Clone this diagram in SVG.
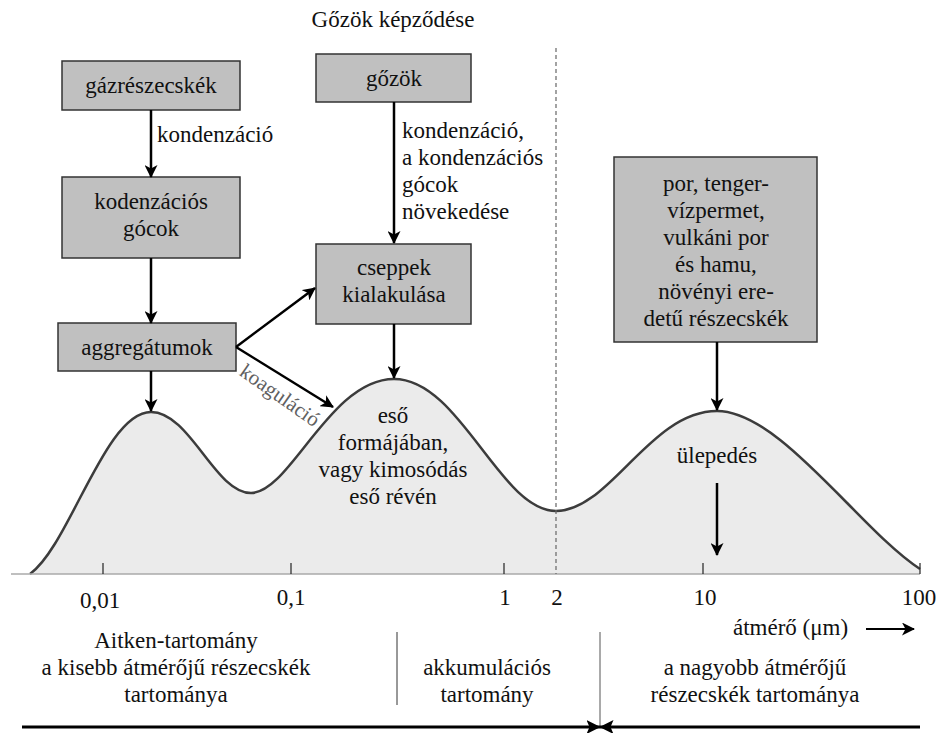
<svg xmlns="http://www.w3.org/2000/svg" width="943" height="733" viewBox="0 0 943 733">
  <defs>
    <marker id="head" viewBox="0 0 13 13" refX="12" refY="6.5" markerWidth="13" markerHeight="13" markerUnits="userSpaceOnUse" orient="auto">
      <path d="M0,0 L13,6.5 L0,13 L3.5,6.5 z" fill="#000"/>
    </marker>
    <marker id="headBig" viewBox="0 0 14 14" refX="13.5" refY="7" markerWidth="14" markerHeight="14" markerUnits="userSpaceOnUse" orient="auto">
      <path d="M0,0 L14,7 L0,14 L3,7 z" fill="#000"/>
    </marker>
  </defs>
  <style>
    .doc text { font-family: "Liberation Serif", "Times New Roman", serif; font-size: 23px; fill: #111; }
    .doc text.c { text-anchor: middle; }
    .doc text.koag { font-size: 21px; fill: #606060; text-anchor: middle; }
    .box { fill: #c0c0c0; stroke: #333; stroke-width: 1.5; }
    .arrow { stroke: #000; stroke-width: 2.5; fill: none; marker-end: url(#head); }
    .tick { stroke: #222; stroke-width: 1.2; }
  </style>

  <rect width="943" height="733" fill="#fff"/>

  <g class="doc" font-family="Liberation Serif, serif" font-size="23">
  <!-- size distribution curve -->
  <g id="curve">
    <path d="M30,574 C70,545 105,412 151,412 C190,412 215,493 251,493 C290,493 330,379 394,379 C460,379 500,511 556,511 C610,511 650,411 717,411 C780,411 860,530 920,569 L920,574 Z" fill="#ebebeb" stroke="none"/>
    <path d="M30,574 C70,545 105,412 151,412 C190,412 215,493 251,493 C290,493 330,379 394,379 C460,379 500,511 556,511 C610,511 650,411 717,411 C780,411 860,530 920,569" fill="none" stroke="#3c3c3c" stroke-width="2.5"/>
  </g>

  <!-- axis and ticks -->
  <g id="axis">
    <line x1="11" y1="574" x2="920" y2="574" stroke="#aaa" stroke-width="1.5"/>
    <line class="tick" x1="103" y1="563" x2="103" y2="574"/>
    <line class="tick" x1="291" y1="563" x2="291" y2="574"/>
    <line class="tick" x1="504" y1="563" x2="504" y2="574"/>
    <line class="tick" x1="703" y1="563" x2="703" y2="574"/>
    <line class="tick" x1="920" y1="563" x2="920" y2="574"/>
    <line x1="556" y1="48" x2="556" y2="574" stroke="#666" stroke-width="1.2" stroke-dasharray="4,3"/>
    <text class="c" x="100" y="608">0,01</text>
    <text class="c" x="291" y="605">0,1</text>
    <text class="c" x="505" y="605">1</text>
    <text class="c" x="557" y="605">2</text>
    <text class="c" x="705" y="605">10</text>
    <text class="c" x="919" y="605">100</text>
    <text x="733" y="635">átmérő (μm)</text>
    <line x1="866" y1="629" x2="914" y2="629" stroke="#000" stroke-width="2" marker-end="url(#head)"/>
  </g>

  <text class="c" x="393" y="27">Gőzök képződése</text>

  <!-- nodes -->
  <g id="gazreszecskek">
    <rect class="box" x="62" y="61" width="178" height="49"/>
    <text class="c" x="151" y="93">gázrészecskék</text>
  </g>
  <g id="kondenzacios-gocok">
    <rect class="box" x="62" y="177" width="178" height="81"/>
    <text class="c" x="151" y="209">kodenzációs</text>
    <text class="c" x="151" y="236">gócok</text>
  </g>
  <g id="aggregatumok">
    <rect class="box" x="58" y="323" width="178" height="48"/>
    <text class="c" x="147" y="355">aggregátumok</text>
  </g>
  <g id="gozok">
    <rect class="box" x="316" y="54" width="155" height="48"/>
    <text class="c" x="394" y="86">gőzök</text>
  </g>
  <g id="cseppek">
    <rect class="box" x="316" y="244" width="155" height="80"/>
    <text class="c" x="394" y="275">cseppek</text>
    <text class="c" x="394" y="302">kialakulása</text>
  </g>
  <g id="por">
    <rect class="box" x="614" y="157" width="203" height="185"/>
    <text class="c" x="716" y="191">por, tenger-</text>
    <text class="c" x="716" y="218">vízpermet,</text>
    <text class="c" x="716" y="245">vulkáni por</text>
    <text class="c" x="716" y="272">és hamu,</text>
    <text class="c" x="716" y="299">növényi ere-</text>
    <text class="c" x="716" y="326">detű részecskék</text>
  </g>

  <!-- connectors -->
  <g id="connectors">
    <line class="arrow" x1="151" y1="110" x2="151" y2="177"/>
    <line class="arrow" x1="151" y1="258" x2="151" y2="323"/>
    <line class="arrow" x1="151" y1="371" x2="151" y2="411"/>
    <line class="arrow" x1="394" y1="102" x2="394" y2="243"/>
    <line class="arrow" x1="394" y1="324" x2="394" y2="378"/>
    <line class="arrow" x1="236" y1="347" x2="315" y2="288"/>
    <line class="arrow" x1="236" y1="347" x2="333" y2="407"/>
    <line class="arrow" x1="717" y1="342" x2="717" y2="410"/>
    <line class="arrow" x1="717" y1="483" x2="717" y2="555"/>
    <text class="koag" x="0" y="0" transform="translate(276,401) rotate(35)">koaguláció</text>
  </g>

  <!-- curve labels -->
  <g id="labels">
    <text class="c" x="393" y="423">eső</text>
    <text class="c" x="393" y="450">formájában,</text>
    <text class="c" x="393" y="477">vagy kimosódás</text>
    <text class="c" x="393" y="504">eső révén</text>
    <text class="c" x="717" y="463">ülepedés</text>
    <text x="157" y="142">kondenzáció</text>
    <text x="402" y="138">kondenzáció,</text>
    <text x="402" y="165">a kondenzációs</text>
    <text x="402" y="192">gócok</text>
    <text x="402" y="219">növekedése</text>
  </g>

  <!-- size ranges -->
  <g id="ranges">
    <text class="c" x="176" y="648">Aitken-tartomány</text>
    <text class="c" x="176" y="675">a kisebb átmérőjű részecskék</text>
    <text class="c" x="176" y="702">tartománya</text>
    <line x1="397" y1="632" x2="397" y2="705" stroke="#333" stroke-width="1"/>
    <text class="c" x="487" y="675">akkumulációs</text>
    <text class="c" x="487" y="702">tartomány</text>
    <line x1="600" y1="632" x2="600" y2="727" stroke="#555" stroke-width="1"/>
    <text class="c" x="755" y="675">a nagyobb átmérőjű</text>
    <text class="c" x="755" y="702">részecskék tartománya</text>
    <line x1="22" y1="727" x2="600" y2="727" stroke="#000" stroke-width="3" marker-end="url(#headBig)"/>
    <line x1="920" y1="727" x2="600" y2="727" stroke="#000" stroke-width="3" marker-end="url(#headBig)"/>
  </g>
  </g>
</svg>
